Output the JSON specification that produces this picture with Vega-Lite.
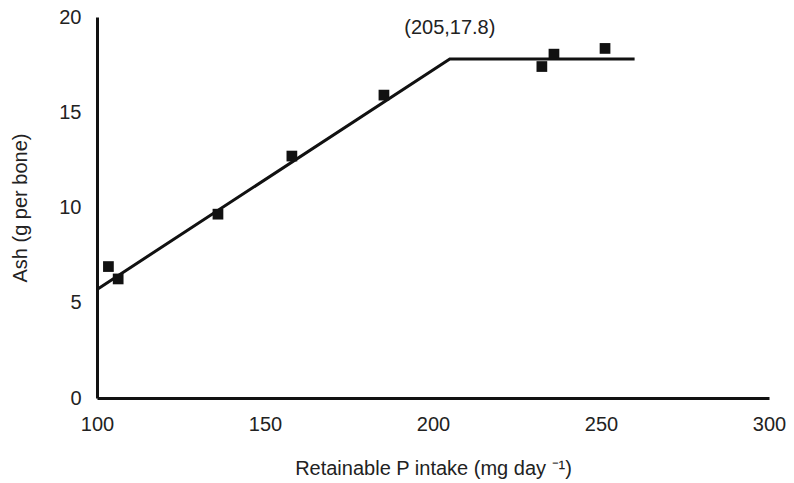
{
  "$schema": "https://vega.github.io/schema/vega-lite/v6.json",
  "width": 672,
  "height": 381,
  "autosize": {"type": "none"},
  "padding": {"left": 97, "top": 17, "right": 25, "bottom": 85},
  "background": "white",
  "config": {
    "view": {"stroke": null},
    "font": "Liberation Sans",
    "axis": {
      "grid": false,
      "ticks": false,
      "labelFlush": false,
      "domainColor": "#111111",
      "domainWidth": 3,
      "labelFont": "Liberation Sans",
      "labelFontSize": 20,
      "labelColor": "#222222",
      "titleFont": "Liberation Sans",
      "titleFontSize": 20,
      "titleFontWeight": "normal",
      "titleColor": "#222222"
    }
  },
  "datasets": {
    "fit": [
      {"x": 100, "y": 5.7},
      {"x": 205, "y": 17.8},
      {"x": 260, "y": 17.8}
    ],
    "obs": [
      {"x": 103.4, "y": 6.9},
      {"x": 106.3, "y": 6.25},
      {"x": 136, "y": 9.65},
      {"x": 158, "y": 12.7},
      {"x": 185.4, "y": 15.9},
      {"x": 232.4, "y": 17.4},
      {"x": 236, "y": 18.05},
      {"x": 251.2, "y": 18.35}
    ],
    "note": [
      {"x": 205, "y": 19.4, "label": "(205,17.8)"}
    ]
  },
  "layer": [
    {
      "data": {"name": "fit"},
      "mark": {"type": "line", "color": "#111111", "strokeWidth": 3},
      "encoding": {
        "x": {
          "field": "x", "type": "quantitative",
          "scale": {"domain": [100, 300], "nice": false},
          "axis": {"values": [100, 150, 200, 250, 300], "labelPadding": 16, "title": "Retainable P intake (mg day \u207b\u00b9)", "titlePadding": 24}
        },
        "y": {
          "field": "y", "type": "quantitative",
          "scale": {"domain": [0, 20], "nice": false},
          "axis": {"values": [0, 5, 10, 15, 20], "labelPadding": 16, "title": "Ash (g per bone)", "titlePadding": 28}
        }
      }
    },
    {
      "data": {"name": "obs"},
      "mark": {"type": "point", "shape": "square", "filled": true, "color": "#111111", "opacity": 1, "size": 115},
      "encoding": {
        "x": {"field": "x", "type": "quantitative"},
        "y": {"field": "y", "type": "quantitative"}
      }
    },
    {
      "data": {"name": "note"},
      "mark": {"type": "text", "fontSize": 20, "color": "#222222", "font": "Liberation Sans"},
      "encoding": {
        "x": {"field": "x", "type": "quantitative"},
        "y": {"field": "y", "type": "quantitative"},
        "text": {"field": "label"}
      }
    }
  ]
}
